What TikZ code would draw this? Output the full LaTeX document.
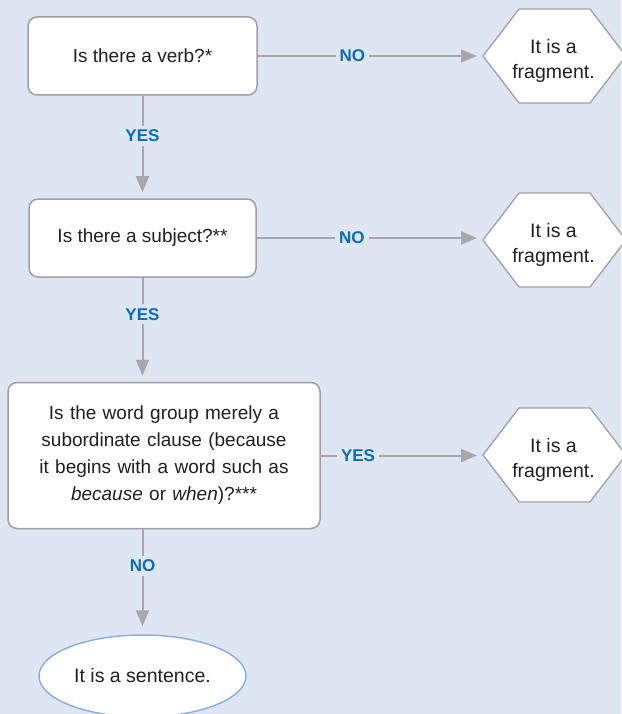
\documentclass[tikz,border=0pt]{standalone}
\usepackage{fontspec}
\setmainfont{Liberation Sans}
\usetikzlibrary{shapes.geometric,arrows.meta,calc}
\definecolor{bg}{HTML}{DFE6F3}
\definecolor{linegray}{HTML}{A8A8A8}
\definecolor{boxgray}{HTML}{A0A0A0}
\definecolor{labblue}{HTML}{0B6CB8}
\definecolor{ellblue}{HTML}{8DAFDD}
\definecolor{txt}{HTML}{231F20}
\begin{document}
\begin{tikzpicture}[x=1pt,y=-1pt,
  qbox/.style={draw=boxgray, line width=1.5pt, fill=white, rounded corners=9pt,
    text=txt, font=\fontsize{19}{27}\selectfont, align=center},
  hextext/.style={text=txt, font=\fontsize{19.5}{25}\selectfont, align=center, inner sep=0pt},
  hexshape/.style={draw=boxgray, line width=1.3pt, fill=white},
  arr/.style={draw=linegray, line width=2pt, -{Triangle[length=16pt,width=13pt]}},
  lab/.style={fill=bg, text=labblue, font=\fontsize{17}{17}\selectfont\bfseries, inner sep=4pt},
  endell/.style={ellipse, draw=ellblue, line width=1.5pt, fill=white, text=txt,
    font=\fontsize{19.5}{22}\selectfont, minimum width=207pt, minimum height=82pt}]
\fill[bg] (0,0) rectangle (621,714);
\useasboundingbox (0,0) rectangle (621,714);

\node[qbox, minimum width=229pt, minimum height=78pt] (q1) at (142.5,56) {Is there a verb?*};
\node[qbox, minimum width=227pt, minimum height=78pt] (q2) at (142.5,238) {Is there a subject?**};
\node[qbox, minimum width=312pt, minimum height=146pt, text width=300pt] (q3) at (164,455.5)
  {Is the word group merely a\\ subordinate clause (because\\ it begins with a word such as\\ \textit{because} or \textit{when})?***};

\foreach \n/\y in {1/56,2/240,3/455}{
  \draw[hexshape] (483,\y) -- ++(36,-47) -- ++(71,0) -- ++(36,47) -- ++(-36,47) -- ++(-71,0) -- cycle;
  \coordinate (h\n w) at (483,\y);
}
\node[hextext] (h1) at (553.5,61) {It is a\\fragment.};
\node[hextext] (h2) at (553.5,245) {It is a\\fragment.};
\node[hextext] (h3) at (553.5,460) {It is a\\fragment.};

\node[endell] (s) at (142.5,676) {It is a sentence.};

\draw[arr, shorten >=6pt] (q1.east) -- (q1.east -| h1w) node[lab, pos=0.42] {NO};
\draw[arr, shorten >=6pt] (q2.east) -- (q2.east -| h2w) node[lab, pos=0.42] {NO};
\draw[arr, shorten >=6pt] (q3.east) -- (q3.east -| h3w) node[lab, pos=0.23] {YES};

\draw[arr, shorten >=6pt] (q1.south) -- (q2.north) node[lab, pos=0.39] {YES};
\draw[arr, shorten >=6pt] (q2.south) -- (q3.north -| q2.south) node[lab, pos=0.35] {YES};
\draw[arr, shorten >=8pt] (q3.south -| q1.south) -- (s.north) node[lab, pos=0.35] {NO};
\end{tikzpicture}
\end{document}
